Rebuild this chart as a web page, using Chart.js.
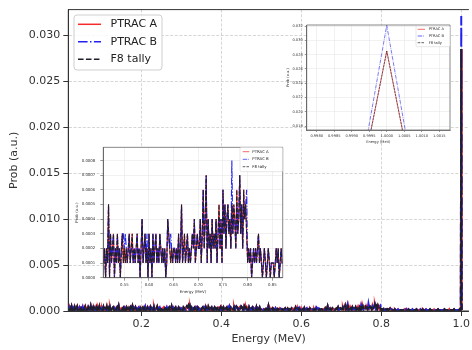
<!DOCTYPE html>
<html><head><meta charset="utf-8">
<script src="https://cdn.jsdelivr.net/npm/chart.js@4.4.1/dist/chart.umd.min.js"></script>
<style>
html,body{margin:0;padding:0;background:#fff;width:472px;height:350px;overflow:hidden}
#wrap{position:relative;width:472px;height:350px}
canvas{position:absolute}
#main{left:0;top:0}
#inset1{left:60px;top:140px}
#inset2{left:280px;top:18px}
</style></head><body>
<div id="wrap">
<canvas id="main" width="472" height="350"></canvas>
<canvas id="inset1" width="230" height="162"></canvas>
<canvas id="inset2" width="180" height="130"></canvas>
</div>
<script>
// ---------- data (probabilities in units of 1e-4, one bin every 0.002 MeV) ----------
const probUnit = 1e-4;
const binStart = 0.002, binWidth = 0.002;
const ptracACounts = [
3,1,5,0,4,2,6,1,3,0,4,2,5,1,3,0,4,1,3,5,0,2,4,1,3,
1,4,0,3,5,1,2,0,4,2,1,5,0,3,1,4,2,0,4,1,3,0,5,2,1,
3,0,4,1,3,2,5,0,3,1,4,0,2,3,4,1,3,0,2,4,1,5,0,2,3,
1,3,4,0,3,1,4,2,0,3,1,4,2,5,0,3,1,4,2,0,3,4,1,3,0,
3,4,1,3,5,0,2,4,1,3,0,4,2,3,1,4,0,2,3,5,1,3,4,0,2,
1,3,4,0,3,2,4,1,3,4,0,2,5,1,3,0,3,4,1,2,0,4,3,1,3,
2,0,4,3,1,3,5,4,6,2,5,1,4,3,0,3,4,1,3,0,4,3,1,2,0,
3,4,1,3,0,4,2,1,5,3,0,3,4,1,2,0,4,3,1,3,5,0,2,4,1,
3,1,4,2,0,3,4,1,3,5,0,4,3,1,2,4,0,3,5,4,2,0,4,3,5,
4,2,0,5,3,4,1,3,0,4,2,1,3,4,0,3,2,1,4,0,3,2,4,1,2,
2,1,2,1,2,0,2,1,5,0,3,1,2,3,0,2,1,3,1,2,0,2,3,1,2,
1,2,1,2,3,1,2,3,1,2,1,2,3,1,2,0,2,4,1,2,3,1,2,0,3,
1,2,0,3,1,2,3,1,2,1,3,2,1,2,1,2,0,1,4,3,2,1,2,1,2,
2,1,2,1,3,1,2,5,1,2,3,1,2,3,1,2,1,2,3,2,4,1,2,3,2,
2,4,1,3,6,2,4,7,1,4,2,3,1,4,2,3,2,4,1,3,5,2,4,1,6,
3,5,2,4,5,3,4,2,5,3,5,4,2,6,3,4,7,3,5,2,6,4,5,3,1,
2,1,2,0,1,2,1,2,1,2,3,1,2,1,0,1,2,1,0,1,2,1,0,1,1,
1,0,1,2,1,2,0,1,2,1,1,0,1,2,1,0,1,1,2,1,0,1,1,2,1,
1,2,1,0,1,2,1,1,0,1,2,1,1,0,1,2,1,0,1,1,2,1,0,1,1,
1,0,1,2,1,1,0,1,1,2,0,1,1,0,1,2,1,0,1,1,0,1,2,1];
const ptracBCounts = [
3,1,4,0,4,2,6,1,3,1,4,2,5,1,3,0,4,1,3,4,0,2,4,1,3,
1,4,0,3,5,1,2,1,4,2,1,5,0,3,1,4,2,0,3,1,3,0,5,2,1,
3,0,4,1,3,2,4,0,3,1,4,0,2,3,4,1,3,1,2,4,1,5,0,2,3,
1,3,4,0,3,1,4,2,0,3,2,4,2,5,0,3,1,4,2,0,3,4,1,3,1,
3,4,1,3,5,0,2,4,1,3,0,4,2,3,1,4,0,2,3,4,1,3,4,0,2,
1,3,4,0,3,2,4,1,3,4,1,2,5,1,3,0,3,4,1,2,0,4,3,1,3,
2,0,4,3,1,3,5,4,5,2,5,1,4,3,0,3,4,1,3,0,4,3,1,2,1,
3,4,1,3,0,4,2,1,5,3,0,3,4,1,2,0,4,3,1,3,4,0,2,4,1,
3,1,4,2,0,3,4,1,3,5,0,4,3,1,2,4,1,3,5,4,2,0,4,3,5,
4,2,0,5,3,4,1,3,0,4,2,1,3,4,0,3,2,1,4,0,3,2,4,1,2,
2,1,2,1,2,0,2,1,5,0,3,1,2,3,0,2,1,3,1,2,0,2,3,3,2,
3,2,1,2,3,1,2,2,1,2,1,2,3,1,2,0,2,4,1,2,3,1,3,0,3,
1,2,0,3,1,2,3,1,2,1,3,2,1,2,1,2,0,1,4,3,2,3,2,1,2,
2,1,2,1,3,1,2,5,1,2,2,1,2,3,1,2,1,2,3,2,4,1,2,3,2,
2,4,1,3,6,2,4,7,1,4,2,3,1,4,2,3,2,4,1,3,4,2,4,1,6,
3,5,2,4,5,3,4,2,8,3,4,4,2,5,3,4,7,3,5,2,5,4,5,6,1,
2,1,2,0,1,2,1,2,1,2,3,1,2,1,0,1,2,1,0,1,2,1,0,1,1,
1,0,1,2,1,2,0,1,2,1,1,0,1,2,1,0,1,1,2,1,0,1,1,2,1,
1,2,1,0,1,2,1,1,0,1,2,1,1,0,1,2,1,0,1,1,2,1,0,1,1,
1,0,1,2,1,1,0,1,1,2,0,1,1,0,1,2,1,0,1,1,0,1,2,1];
// F8 tally coincides with PTRAC A in the picture
const f8TallyCounts = ptracACounts.slice();

const peakEnergy  = [0.99885, 1.0000, 1.00115];
const peakPtracA  = [0.0002, 0.0285, 0.0001];
const peakPtracB  = [0.0002, 0.0321, 0.0001];
const peakF8Tally = [0.0002, 0.0285, 0.0001];

const mainXTicks   = [0.2, 0.4, 0.6, 0.8, 1.0];
const mainYTicks   = [0, 0.005, 0.010, 0.015, 0.020, 0.025, 0.030];
const inset1XTicks = [0.55, 0.60, 0.65, 0.70, 0.75, 0.80, 0.85];
const inset1YTicks = [0, 0.0001, 0.0002, 0.0003, 0.0004, 0.0005, 0.0006, 0.0007, 0.0008];
const inset2XTicks = [0.9980, 0.9985, 0.9990, 0.9995, 1.0000, 1.0005, 1.0010, 1.0015];
const inset2YTicks = [0.018, 0.020, 0.022, 0.024, 0.026, 0.028, 0.030, 0.032];

// ---------- helpers ----------
function buildSeries(counts, peak) {
  const pts = counts.map((c, i) => ({ x: +(binStart + i * binWidth).toFixed(3), y: c * probUnit }));
  peakEnergy.forEach((e, i) => pts.push({ x: e, y: peak[i] }));
  return pts;
}
const RED = '#f52a2a', BLUE = '#2222f0', BLACK = '#1e1e2a';
function makeDatasets(lw) {
  return [
    { label: 'PTRAC A', data: buildSeries(ptracACounts, peakPtracA), borderColor: RED, borderWidth: lw, borderDash: [], order: 3, ldash: [] },
    { label: 'PTRAC B', data: buildSeries(ptracBCounts, peakPtracB), borderColor: BLUE, borderWidth: lw, borderDash: [6.4*lw, 1.6*lw, lw, 1.6*lw], order: 2, ldash: [6.4, 1.6, 1, 1.6] },
    { label: 'F8 tally', data: buildSeries(f8TallyCounts, peakF8Tally), borderColor: BLACK, borderWidth: lw, borderDash: [3.7*lw, 1.6*lw], order: 1, ldash: [3.7, 1.6] }
  ].map(d => Object.assign(d, { pointRadius: 0, fill: false, tension: 0, backgroundColor: d.borderColor }));
}

const decor = {
  id: 'decor',
  beforeDraw(chart, args, o) {
    const { ctx, chartArea: a } = chart;
    ctx.save(); ctx.fillStyle = '#fff';
    ctx.fillRect(a.left, a.top, a.right - a.left, a.bottom - a.top);
    ctx.restore();
  },
  afterDraw(chart, args, o) {
    const { ctx, chartArea: a } = chart;
    ctx.save();
    ctx.strokeStyle = o.frameColor; ctx.lineWidth = o.frameWidth; ctx.setLineDash([]);
    ctx.beginPath();
    ctx.moveTo(a.left, a.bottom); ctx.lineTo(a.left, a.top); ctx.lineTo(a.right, a.top);
    if (o.rightSpine) ctx.lineTo(a.right, a.bottom);
    ctx.moveTo(a.left, a.bottom); ctx.lineTo(a.right, a.bottom);
    ctx.stroke();
    const L = o.legend;
    ctx.beginPath(); ctx.roundRect(L.x, L.y, L.w, L.h, L.r);
    ctx.fillStyle = 'rgba(255,255,255,0.85)'; ctx.fill();
    ctx.strokeStyle = '#cfcfcf'; ctx.lineWidth = L.boxLw; ctx.stroke();
    chart.data.datasets.forEach((ds, i) => {
      const y = L.rows[i];
      ctx.beginPath(); ctx.setLineDash(ds.ldash.map(v => v * L.lw));
      ctx.strokeStyle = ds.borderColor; ctx.lineWidth = L.lw;
      ctx.moveTo(L.sx0, y); ctx.lineTo(L.sx1, y); ctx.stroke(); ctx.setLineDash([]);
      ctx.fillStyle = '#222'; ctx.font = L.font + 'px "DejaVu Sans"'; ctx.textBaseline = 'middle'; ctx.textAlign = 'left';
      ctx.fillText(ds.label, L.tx, y);
    });
    ctx.restore();
  }
};

function axis(opts) {
  const { min, max, ticks, fmt, font, tickLen, pad, fit, title, titleFont, grid, dash, tickColor, frame } = opts;
  return {
    type: 'linear', min, max,
    afterBuildTicks: s => { s.ticks = ticks.map(v => ({ value: v })); },
    afterFit: fit,
    ticks: { callback: v => v.toFixed(fmt), font: { family: 'DejaVu Sans', size: font }, color: '#333', padding: pad, autoSkip: false, maxRotation: 0, includeBounds: false },
    grid: { color: grid, lineWidth: opts.gridWidth, tickLength: tickLen, tickColor: tickColor, tickWidth: opts.tickWidth, tickBorderDash: [] },
    border: { display: true, color: frame, width: opts.frameWidth, dash: dash },
    title: { display: true, text: title, font: { family: 'DejaVu Sans', size: titleFont }, color: '#333', padding: opts.titlePad }
  };
}

const common = { responsive: false, animation: false, devicePixelRatio: 1, events: [] };

// ---------- main chart ----------
new Chart(document.getElementById('main'), {
  type: 'line',
  data: { datasets: makeDatasets(2.0) },
  plugins: [decor],
  options: Object.assign({}, common, {
    layout: { padding: { left: 3.4, top: 9, right: 0, bottom: 0 } },
    plugins: {
      legend: { display: false }, tooltip: { enabled: false },
      decor: { frameColor: '#333', frameWidth: 1, rightSpine: false,
        legend: { x: 74, y: 15, w: 88, h: 55, r: 3, boxLw: 1, lw: 1.5, rows: [24.3, 41.7, 59.3], sx0: 78, sx1: 101, tx: 110.5, font: 11 } }
    },
    scales: {
      x: axis({ min: 0.018, max: 1.0191, ticks: mainXTicks, fmt: 1, font: 11, tickLen: 5, pad: 2,
        fit: s => { s.height = 39; }, title: 'Energy (MeV)', titleFont: 11, titlePad: 4,
        grid: '#cccccc', gridWidth: 0.8, dash: [3, 1.6], tickColor: '#333', tickWidth: 1, frame: '#333', frameWidth: 1 }),
      y: axis({ min: 0, max: 0.0328, ticks: mainYTicks, fmt: 3, font: 11, tickLen: 5, pad: 3,
        fit: s => { s.width = 64.9; }, title: 'Prob (a.u.)', titleFont: 11, titlePad: 4,
        grid: '#cccccc', gridWidth: 0.8, dash: [3, 1.6], tickColor: '#333', tickWidth: 1, frame: '#333', frameWidth: 1 })
    }
  })
});

// ---------- inset 1 (continuum zoom) ----------
new Chart(document.getElementById('inset1'), {
  type: 'line',
  data: { datasets: makeDatasets(1.1) },
  plugins: [decor],
  options: Object.assign({}, common, {
    layout: { padding: { left: 14.7, top: 5, right: 7.3, bottom: 8 } },
    plugins: {
      legend: { display: false }, tooltip: { enabled: false },
      decor: { frameColor: '#555', frameWidth: 0.7, rightSpine: true,
        legend: { x: 180, y: 7.3, w: 42.7, h: 24.4, r: 1.5, boxLw: 0.5, lw: 0.7, rows: [11.7, 19.3, 26.7], sx0: 182.7, sx1: 189.3, tx: 192.3, font: 3.9 } }
    },
    scales: {
      x: axis({ min: 0.5074, max: 0.8711, ticks: inset1XTicks, fmt: 2, font: 3.9, tickLen: 3, pad: 2,
        fit: s => { s.height = 16.3; }, title: 'Energy (MeV)', titleFont: 3.9, titlePad: 0,
        grid: '#e2e2e2', gridWidth: 0.5, dash: [], tickColor: '#555', tickWidth: 0.6, frame: '#555', frameWidth: 0.7 }),
      y: axis({ min: 0, max: 0.00089, ticks: inset1YTicks, fmt: 4, font: 3.9, tickLen: 3, pad: 5,
        fit: s => { s.width = 28.6; }, title: 'Prob (a.u.)', titleFont: 3.9, titlePad: 0,
        grid: '#e2e2e2', gridWidth: 0.5, dash: [], tickColor: '#555', tickWidth: 0.6, frame: '#555', frameWidth: 0.7 })
    }
  })
});

// ---------- inset 2 (peak zoom) ----------
new Chart(document.getElementById('inset2'), {
  type: 'line',
  data: { datasets: makeDatasets(0.6) },
  plugins: [decor],
  options: Object.assign({}, common, {
    layout: { padding: { left: 5.84, top: 7, right: 10, bottom: 4.1 } },
    plugins: {
      legend: { display: false }, tooltip: { enabled: false },
      decor: { frameColor: '#555', frameWidth: 0.7, rightSpine: true,
        legend: { x: 136, y: 8, w: 34, h: 20.7, r: 1.5, boxLw: 0.5, lw: 0.7, rows: [11.3, 18, 24.7], sx0: 137.7, sx1: 145, tx: 148.7, font: 3.6 } }
    },
    scales: {
      x: axis({ min: 0.997715, max: 1.001805, ticks: inset2XTicks, fmt: 4, font: 3.6, tickLen: 2, pad: 1.8,
        fit: s => { s.height = 13.9; }, title: 'Energy (MeV)', titleFont: 3.6, titlePad: 0,
        grid: '#e2e2e2', gridWidth: 0.5, dash: [], tickColor: '#555', tickWidth: 0.6, frame: '#555', frameWidth: 0.7 }),
      y: axis({ min: 0.01744, max: 0.03214, ticks: inset2YTicks, fmt: 3, font: 3.6, tickLen: 2, pad: 2,
        fit: s => { s.width = 20.86; }, title: 'Prob (a.u.)', titleFont: 3.6, titlePad: 0,
        grid: '#e2e2e2', gridWidth: 0.5, dash: [], tickColor: '#555', tickWidth: 0.6, frame: '#555', frameWidth: 0.7 })
    }
  })
});
</script>
</body></html>
